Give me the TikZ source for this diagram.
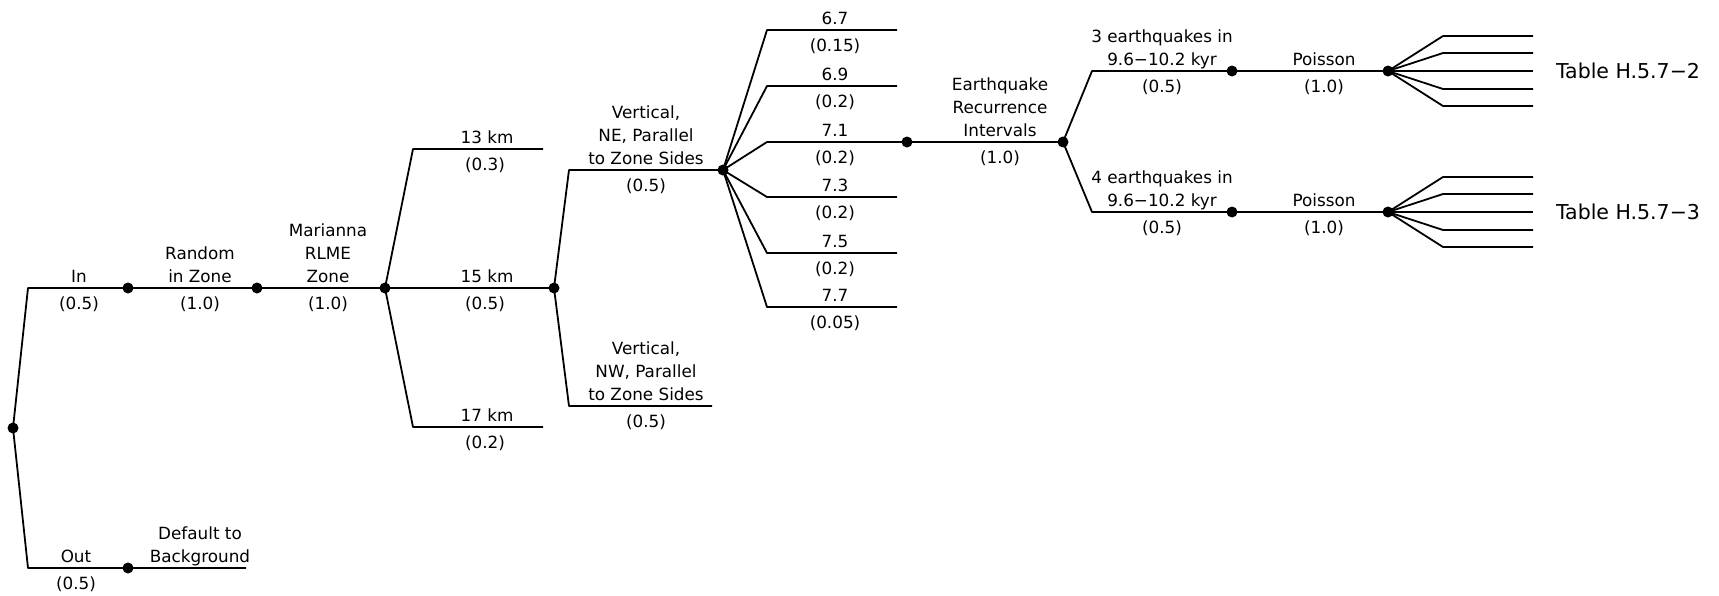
\documentclass[tikz,border=0pt]{standalone}
\usepackage{fontspec}
\setmainfont{DejaVu Sans}
% centred stack of lines whose baseline is the last line
\newcommand\stk[1]{\begin{tabular}[b]{@{}c@{}}#1\end{tabular}}
\begin{document}
\begin{tikzpicture}[x=1pt,y=-1pt,
  branch/.style={line width=1.8pt, line join=round},
  dot/.style={circle, fill=black, inner sep=0pt, minimum size=11pt},
  lbl/.style={anchor=base, inner sep=0pt, font=\fontsize{16.8}{23}\selectfont},
  tbl/.style={anchor=base, inner sep=0pt, font=\fontsize{20.5}{24}\selectfont}]
\useasboundingbox (0,0) rectangle (1719,595);

% ---- junctions and bends ----
\coordinate (root) at (13,428);
\coordinate (inC)  at (28,288);
\coordinate (outC) at (28,568);
\coordinate (in1)  at (128,288);
\coordinate (in2)  at (257,288);
\coordinate (zone) at (385,288);
\coordinate (out1) at (128,568);
\coordinate (outE) at (246,568);
\coordinate (d13)  at (413,149);
\coordinate (d13e) at (543,149);
\coordinate (d15)  at (554,288);
\coordinate (d17)  at (413,427);
\coordinate (d17e) at (543,427);
\coordinate (neC)  at (569,170);
\coordinate (ne)   at (723,170);
\coordinate (nwC)  at (569,406);
\coordinate (nwE)  at (712,406);
\foreach \y [count=\i] in {30,86,142,197,253,307} {
  \coordinate (m\i)  at (767,\y);
  \coordinate (m\i e) at (897,\y);
}
\coordinate (rec1) at (907,142);
\coordinate (rec2) at (1063,142);
\coordinate (eq3C) at (1092,71);
\coordinate (eq3)  at (1232,71);
\coordinate (pois3) at (1388,71);
\coordinate (eq4C) at (1092,212);
\coordinate (eq4)  at (1232,212);
\coordinate (pois4) at (1388,212);
\foreach \o [count=\k] in {-35,-18,0,18,35} {
  \coordinate (fa\k)  at (1443,71+\o);
  \coordinate (fa\k e) at (1533,71+\o);
  \coordinate (fb\k)  at (1443,212+\o);
  \coordinate (fb\k e) at (1533,212+\o);
}

% ---- branches ----
\draw[branch] (zone) -- (in2) -- (in1) -- (inC) -- (root) -- (outC) -- (out1) -- (outE);
\draw[branch] (d13e) -- (d13) -- (zone) -- (d17) -- (d17e);
\draw[branch] (zone) -- (d15);
\draw[branch] (ne) -- (neC) -- (d15) -- (nwC) -- (nwE);
\foreach \i in {1,2,4,5,6} \draw[branch] (ne) -- (m\i) -- (m\i e);
\draw[branch] (ne) -- (m3) -- (rec1) -- (rec2);
\draw[branch] (pois3) -- (eq3) -- (eq3C) -- (rec2) -- (eq4C) -- (eq4) -- (pois4);
\foreach \k in {1,...,5} {
  \draw[branch] (pois3) -- (fa\k) -- (fa\k e);
  \draw[branch] (pois4) -- (fb\k) -- (fb\k e);
}

% ---- nodes ----
\foreach \p in {root,in1,in2,zone,out1,d15,ne,rec1,rec2,eq3,pois3,eq4,pois4}
  \node[dot] (\p-dot) at (\p) {};

% ---- labels ----
\node[lbl] (tIn)   at (79,282)  {In};
\node[lbl] (pIn)   at (79,309)  {(0.5)};
\node[lbl] (tRand) at (200,282) {\stk{Random\\in Zone}};
\node[lbl] (pRand) at (200,309) {(1.0)};
\node[lbl] (tMar)  at (328,282) {\stk{Marianna\\RLME\\Zone}};
\node[lbl] (pMar)  at (328,309) {(1.0)};
\node[lbl] (tOut)  at (76,562)  {Out};
\node[lbl] (pOut)  at (76,589)  {(0.5)};
\node[lbl] (tDef)  at (200,562) {\stk{Default to\\Background}};

\node[lbl] (t13) at (487,143) {13 km};
\node[lbl] (p13) at (485,170) {(0.3)};
\node[lbl] (t15) at (487,282) {15 km};
\node[lbl] (p15) at (485,309) {(0.5)};
\node[lbl] (t17) at (487,421) {17 km};
\node[lbl] (p17) at (485,448) {(0.2)};

\node[lbl] (tNE) at (646,164) {\stk{Vertical,\\NE, Parallel\\to Zone Sides}};
\node[lbl] (pNE) at (646,191) {(0.5)};
\node[lbl] (tNW) at (646,400) {\stk{Vertical,\\NW, Parallel\\to Zone Sides}};
\node[lbl] (pNW) at (646,427) {(0.5)};

\foreach \y/\m/\p [count=\i] in {30/6.7/0.15, 86/6.9/0.2, 142/7.1/0.2,
                                 197/7.3/0.2, 253/7.5/0.2, 307/7.7/0.05} {
  \node[lbl] (tm\i) at (835,\y-6)  {\m};
  \node[lbl] (pm\i) at (835,\y+21) {(\p)};
}

\node[lbl] (tRec) at (1000,136) {\stk{Earthquake\\Recurrence\\Intervals}};
\node[lbl] (pRec) at (1000,163) {(1.0)};

\node[lbl] (tEq3) at (1162,65)  {\stk{3 earthquakes in\\9.6−10.2 kyr}};
\node[lbl] (pEq3) at (1162,92)  {(0.5)};
\node[lbl] (tPo3) at (1324,65)  {Poisson};
\node[lbl] (pPo3) at (1324,92)  {(1.0)};
\node[lbl] (tEq4) at (1162,206) {\stk{4 earthquakes in\\9.6−10.2 kyr}};
\node[lbl] (pEq4) at (1162,233) {(0.5)};
\node[lbl] (tPo4) at (1324,206) {Poisson};
\node[lbl] (pPo4) at (1324,233) {(1.0)};

\node[tbl] (tab2) at (1628,78.5)  {Table H.5.7−2};
\node[tbl] (tab3) at (1628,219.5) {Table H.5.7−3};
\end{tikzpicture}
\end{document}
